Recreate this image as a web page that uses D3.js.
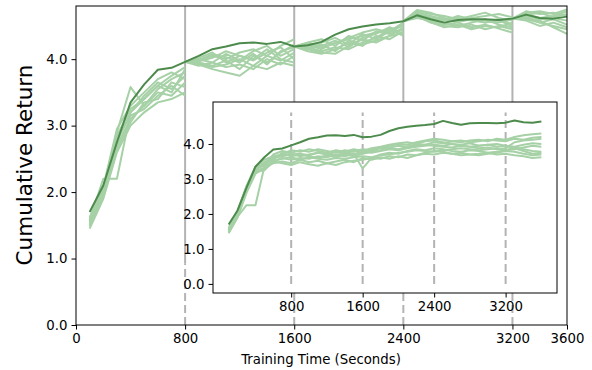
<!DOCTYPE html>
<html>
<head>
<meta charset="utf-8">
<script src="https://cdn.jsdelivr.net/npm/d3@7"></script>
<style>
  body { margin: 0; background: #fff; }
  text { font-family: "DejaVu Sans", sans-serif; fill: #000; }
</style>
</head>
<body>
<script>
// training time steps (seconds)
const times = [100, 200, 300, 400, 500, 600, 700, 800, 900, 1000, 1100, 1200,
  1300, 1400, 1500, 1600, 1700, 1800, 1900, 2000, 2100, 2200, 2300, 2400,
  2500, 2600, 2700, 2800, 2900, 3000, 3100, 3200, 3300, 3400, 3500, 3600];
const boundaries = [800, 1600, 2400, 3200];
const xTicks = [0, 800, 1600, 2400, 3200, 3600];
const yTicks = [0, 1, 2, 3, 4];
const insetXTicks = [800, 1600, 2400, 3200];

// highlighted run (dark)
const bestRun = [1.70, 2.10, 2.75, 3.35, 3.62, 3.84, 3.87, 3.96, 4.05, 4.15, 4.19, 4.24,
  4.25, 4.23, 4.26, 4.19, 4.21, 4.26, 4.37, 4.45, 4.49, 4.52, 4.54, 4.57,
  4.66, 4.60, 4.55, 4.59, 4.60, 4.60, 4.59, 4.61, 4.67, 4.62, 4.61, 4.64];

// main panel runs, restarted from the best run at each boundary
const mainRuns = [
  [1.55, 2.00, 2.85, 3.25, 3.40, 3.60, 3.75, 3.88, 3.98, 4.05, 4.00, 4.10, 4.15, 4.05, 4.20, 4.30, 4.22, 4.15, 4.25, 4.30, 4.35, 4.40, 4.45, 4.50, 4.70, 4.65, 4.60, 4.62, 4.58, 4.55, 4.60, 4.52, 4.68, 4.62, 4.65, 4.72],
  [1.50, 1.95, 2.70, 3.10, 3.30, 3.50, 3.45, 3.65, 3.92, 3.85, 3.80, 3.75, 3.90, 3.85, 3.95, 3.90, 4.15, 4.10, 4.08, 4.20, 4.30, 4.25, 4.35, 4.40, 4.65, 4.55, 4.50, 4.48, 4.52, 4.45, 4.50, 4.45, 4.60, 4.55, 4.50, 4.45],
  [1.62, 2.05, 2.90, 3.58, 3.30, 3.55, 3.70, 3.80, 4.00, 3.95, 4.08, 3.98, 4.12, 4.20, 4.05, 4.15, 4.25, 4.30, 4.20, 4.35, 4.28, 4.42, 4.38, 4.45, 4.72, 4.68, 4.65, 4.60, 4.65, 4.70, 4.62, 4.58, 4.70, 4.72, 4.68, 4.75],
  [1.45, 1.90, 2.60, 3.00, 3.20, 3.35, 3.40, 3.50, 3.90, 3.95, 3.88, 3.92, 3.85, 4.00, 3.92, 4.05, 4.18, 4.12, 4.18, 4.15, 4.25, 4.32, 4.45, 4.35, 4.62, 4.58, 4.52, 4.55, 4.48, 4.52, 4.46, 4.40, 4.62, 4.58, 4.48, 4.38],
  [1.58, 2.20, 2.20, 3.20, 3.45, 3.65, 3.55, 3.75, 4.02, 4.10, 3.95, 4.05, 3.98, 4.10, 4.18, 4.00, 4.20, 4.25, 4.32, 4.22, 4.38, 4.30, 4.42, 4.55, 4.68, 4.62, 4.58, 4.65, 4.60, 4.58, 4.55, 4.60, 4.66, 4.60, 4.62, 4.58],
  [1.52, 1.98, 2.80, 3.15, 3.25, 3.45, 3.60, 3.45, 3.95, 3.90, 3.98, 3.85, 4.05, 3.95, 4.10, 4.22, 4.12, 4.08, 4.15, 4.25, 4.20, 4.35, 4.30, 4.42, 4.66, 4.60, 4.55, 4.50, 4.55, 4.60, 4.52, 4.48, 4.58, 4.50, 4.55, 4.48],
  [1.60, 2.08, 2.95, 3.30, 3.50, 3.70, 3.80, 3.70, 3.97, 4.02, 4.12, 4.05, 4.00, 4.15, 4.00, 3.95, 4.24, 4.20, 4.28, 4.18, 4.32, 4.38, 4.48, 4.38, 4.74, 4.70, 4.62, 4.58, 4.62, 4.65, 4.68, 4.63, 4.72, 4.68, 4.70, 4.65],
  [1.48, 1.92, 2.65, 3.05, 3.35, 3.40, 3.65, 3.58, 3.93, 3.88, 3.92, 4.00, 3.90, 4.05, 3.98, 4.10, 4.16, 4.22, 4.12, 4.28, 4.22, 4.28, 4.35, 4.48, 4.64, 4.56, 4.48, 4.52, 4.45, 4.50, 4.48, 4.55, 4.64, 4.55, 4.60, 4.52],
  [1.56, 2.02, 2.75, 3.20, 3.40, 3.60, 3.50, 3.85, 3.99, 4.07, 4.03, 3.95, 4.08, 3.92, 4.12, 4.18, 4.21, 4.18, 4.24, 4.32, 4.40, 4.45, 4.40, 4.52, 4.69, 4.64, 4.60, 4.56, 4.60, 4.55, 4.58, 4.50, 4.67, 4.70, 4.63, 4.68]
];

// inset runs, trained without restarts
const insetRuns = [
  [1.50, 1.95, 2.70, 3.30, 3.40, 3.60, 3.65, 3.70, 3.72, 3.68, 3.75, 3.70, 3.78, 3.72, 3.80, 3.75, 3.82, 3.88, 3.90, 3.95, 3.92, 4.00, 3.98, 4.05, 4.02, 4.08, 4.05, 4.10, 4.12, 4.08, 4.15, 4.12, 4.20, 4.25, 4.28, 4.30],
  [1.45, 1.90, 2.60, 3.15, 3.30, 3.45, 3.50, 3.45, 3.55, 3.48, 3.52, 3.45, 3.50, 3.55, 3.48, 3.60, 3.55, 3.62, 3.58, 3.65, 3.60, 3.68, 3.72, 3.70, 3.75, 3.72, 3.68, 3.70, 3.72, 3.75, 3.70, 3.72, 3.68, 3.65, 3.60, 3.62],
  [1.55, 2.05, 2.80, 3.35, 3.55, 3.65, 3.70, 3.82, 3.78, 3.85, 3.80, 3.75, 3.82, 3.78, 3.85, 3.80, 3.88, 3.92, 3.98, 4.02, 4.05, 4.00, 4.08, 4.10, 4.05, 4.00, 3.98, 4.02, 3.95, 3.98, 4.00, 3.95, 3.92, 3.98, 4.02, 4.00],
  [1.48, 1.92, 2.25, 2.25, 3.35, 3.50, 3.60, 3.55, 3.60, 3.58, 3.65, 3.62, 3.70, 3.65, 3.72, 3.30, 3.60, 3.70, 3.75, 3.72, 3.80, 3.85, 3.82, 3.88, 3.85, 3.80, 3.78, 3.82, 3.80, 3.75, 3.78, 3.82, 3.90, 3.85, 3.80, 3.78],
  [1.58, 2.08, 2.75, 3.25, 3.45, 3.55, 3.75, 3.65, 3.70, 3.65, 3.60, 3.68, 3.62, 3.70, 3.65, 3.72, 3.78, 3.82, 3.88, 3.85, 3.92, 3.95, 3.98, 3.95, 3.92, 3.90, 3.95, 3.92, 3.88, 3.90, 3.85, 3.88, 4.05, 4.10, 4.12, 4.15],
  [1.52, 1.98, 2.65, 3.20, 3.25, 3.50, 3.45, 3.40, 3.48, 3.42, 3.38, 3.45, 3.40, 3.48, 3.52, 3.55, 3.60, 3.58, 3.65, 3.62, 3.70, 3.68, 3.75, 3.80, 3.78, 3.72, 3.75, 3.70, 3.68, 3.72, 3.75, 3.80, 3.78, 3.72, 3.68, 3.70],
  [1.60, 2.10, 2.78, 3.28, 3.38, 3.70, 3.80, 3.75, 3.82, 3.78, 3.85, 3.80, 3.75, 3.82, 3.78, 3.85, 3.82, 3.90, 3.95, 4.00, 3.98, 4.05, 4.10, 4.15, 4.12, 4.08, 4.10, 4.05, 4.08, 4.12, 4.10, 4.08, 4.15, 4.12, 4.18, 4.20],
  [1.47, 1.94, 2.68, 3.22, 3.32, 3.52, 3.58, 3.62, 3.55, 3.62, 3.58, 3.55, 3.60, 3.58, 3.62, 3.65, 3.62, 3.68, 3.70, 3.75, 3.78, 3.82, 3.80, 3.78, 3.82, 3.85, 3.88, 3.85, 3.82, 3.85, 3.88, 3.82, 3.85, 3.90, 3.95, 3.92],
  [1.54, 2.02, 2.72, 3.30, 3.48, 3.62, 3.68, 3.72, 3.65, 3.70, 3.75, 3.72, 3.68, 3.75, 3.70, 3.78, 3.75, 3.80, 3.85, 3.82, 3.88, 3.92, 3.95, 3.98, 3.95, 4.00, 3.95, 3.92, 3.95, 3.98, 3.92, 3.95, 3.88, 3.80, 3.72, 3.75]
];

const W = 592, H = 370;
const lightC = "#a6d1a6", darkC = "#4d8b4d", vlineC = "#b3b3b3";

const svg = d3.select("body").append("svg")
  .attr("width", W).attr("height", H)
  .style("font-family", "'DejaVu Sans', sans-serif");

// main axes
const x = d3.scaleLinear().domain([0, 3600]).range([76, 567]);
const y = d3.scaleLinear().domain([0, 4.8]).range([325, 6]);

const line = (xs, ys) => d3.line().x(d => xs(d[0])).y(d => ys(d[1]));

// split a run into segments restarting at each boundary
function segments(run) {
  const cuts = [times[0]].concat(boundaries, [times[times.length - 1]]);
  const segs = [];
  for (let k = 0; k < cuts.length - 1; k++) {
    const pts = [];
    if (k > 0) pts.push([cuts[k], bestRun[times.indexOf(cuts[k])]]);
    times.forEach((t, i) => {
      if ((k === 0 ? t >= cuts[k] : t > cuts[k]) && t <= cuts[k + 1]) pts.push([t, run[i]]);
    });
    segs.push(pts);
  }
  return segs;
}

const main = svg.append("g");

// vertical boundary lines (dashed low part, solid where overlapping)
boundaries.forEach(b => {
  main.append("line")
    .attr("x1", x(b)).attr("x2", x(b)).attr("y1", y(0)).attr("y2", y(0.93))
    .attr("stroke", vlineC).attr("stroke-width", 2).attr("stroke-dasharray", "8,4");
  main.append("line")
    .attr("x1", x(b)).attr("x2", x(b)).attr("y1", y(0.93)).attr("y2", y(4.8))
    .attr("stroke", vlineC).attr("stroke-width", 2);
});

const mainLine = line(x, y);
mainRuns.forEach(run => {
  segments(run).forEach(seg => {
    main.append("path").attr("d", mainLine(seg))
      .attr("fill", "none").attr("stroke", lightC).attr("stroke-width", 2)
      .attr("stroke-linejoin", "round");
  });
});
main.append("path").attr("d", mainLine(times.map((t, i) => [t, bestRun[i]])))
  .attr("fill", "none").attr("stroke", darkC).attr("stroke-width", 2)
  .attr("stroke-linejoin", "round");

// frame
main.append("rect").attr("x", 76).attr("y", 6).attr("width", 567 - 76).attr("height", 325 - 6)
  .attr("fill", "none").attr("stroke", "#000").attr("stroke-width", 1);

const xAxis = main.append("g").attr("transform", "translate(0,325)")
  .call(d3.axisBottom(x).tickValues(xTicks).tickFormat(d3.format("d")).tickSize(4.5).tickPadding(4));
const yAxis = main.append("g").attr("transform", "translate(76,0)")
  .call(d3.axisLeft(y).tickValues(yTicks).tickFormat(d3.format(".1f")).tickSize(4.5).tickPadding(4));
[xAxis, yAxis].forEach(a => {
  a.select(".domain").remove();
  a.selectAll("text").style("font-size", "13.3px").style("font-family", "'DejaVu Sans', sans-serif");
});

main.append("text").attr("x", 321).attr("y", 364).attr("text-anchor", "middle")
  .style("font-size", "13.3px").text("Training Time (Seconds)");
main.append("text").attr("transform", "translate(32,165) rotate(-90)").attr("text-anchor", "middle")
  .style("font-size", "21.5px").text("Cumulative Return");

// inset axes
const ix = d3.scaleLinear().domain([-75, 3775]).range([213, 557]);
const iy = d3.scaleLinear().domain([-0.26, 5.2]).range([293, 102]);
const inset = svg.append("g");
inset.append("rect").attr("x", 213).attr("y", 102).attr("width", 557 - 213).attr("height", 293 - 102)
  .attr("fill", "#fff");

boundaries.forEach(b => {
  inset.append("line")
    .attr("x1", ix(b)).attr("x2", ix(b)).attr("y1", iy(0)).attr("y2", iy(4.9))
    .attr("stroke", vlineC).attr("stroke-width", 2).attr("stroke-dasharray", "8,4");
});

const insetLine = line(ix, iy);
insetRuns.forEach(run => {
  inset.append("path").attr("d", insetLine(times.map((t, i) => [t, run[i]])))
    .attr("fill", "none").attr("stroke", lightC).attr("stroke-width", 2)
    .attr("stroke-linejoin", "round");
});
inset.append("path").attr("d", insetLine(times.map((t, i) => [t, bestRun[i]])))
  .attr("fill", "none").attr("stroke", darkC).attr("stroke-width", 2)
  .attr("stroke-linejoin", "round");

inset.append("rect").attr("x", 213).attr("y", 102).attr("width", 557 - 213).attr("height", 293 - 102)
  .attr("fill", "none").attr("stroke", "#000").attr("stroke-width", 1);

const ixAxis = inset.append("g").attr("transform", "translate(0,293)")
  .call(d3.axisBottom(ix).tickValues(insetXTicks).tickFormat(d3.format("d")).tickSize(4.5).tickPadding(4));
const iyAxis = inset.append("g").attr("transform", "translate(213,0)")
  .call(d3.axisLeft(iy).tickValues(yTicks).tickFormat(d3.format(".1f")).tickSize(4.5).tickPadding(4));
[ixAxis, iyAxis].forEach(a => {
  a.select(".domain").remove();
  a.selectAll("text").style("font-size", "13.3px").style("font-family", "'DejaVu Sans', sans-serif");
});
</script>
</body>
</html>
